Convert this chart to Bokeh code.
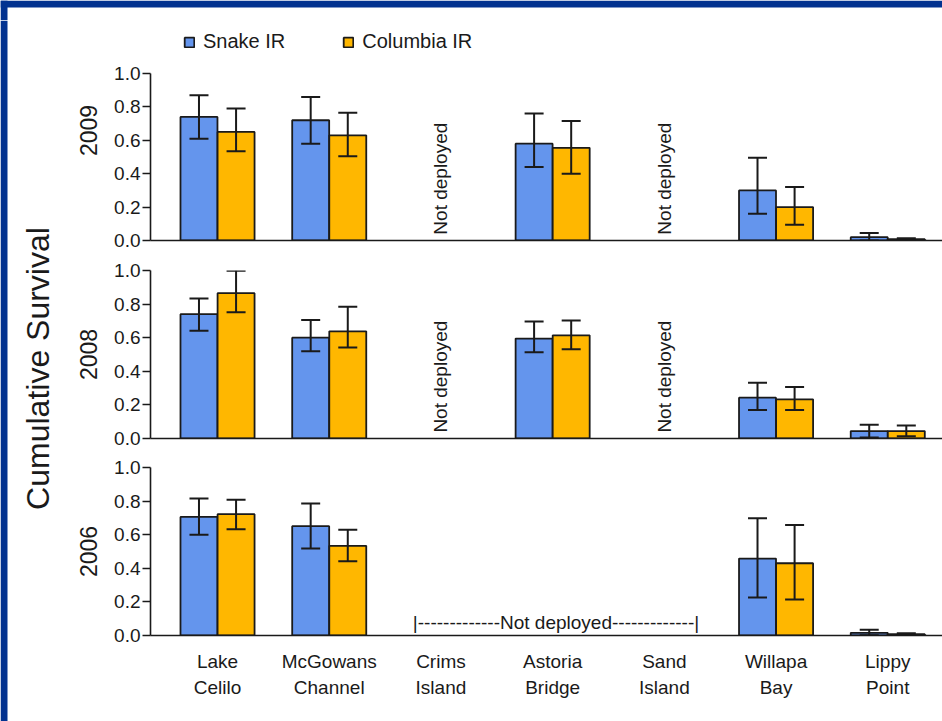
import math
from bokeh.plotting import figure
from bokeh.layouts import column, row
from bokeh.models import (Range1d, FixedTicker, NumeralTickFormatter, Whisker, BoxAnnotation,
                          ColumnDataSource, Legend, LegendItem, Label, TeeHead)
from bokeh.embed import file_html
from bokeh.resources import INLINE
from bokeh.core.properties import value

# ---------------- data ----------------
sites = ["Lake\nCelilo", "McGowans\nChannel", "Crims\nIsland", "Astoria\nBridge",
         "Sand\nIsland", "Willapa\nBay", "Lippy\nPoint"]
series_names = ["Snake IR", "Columbia IR"]
years = ["2009", "2008", "2006"]

snake_2009 = [0.74, 0.72, None, 0.58, None, 0.30, 0.02]
snake_2009_lo = [0.61, 0.58, None, 0.44, None, 0.16, 0.0]
snake_2009_hi = [0.87, 0.86, None, 0.76, None, 0.495, 0.045]
columbia_2009 = [0.65, 0.63, None, 0.555, None, 0.20, 0.008]
columbia_2009_lo = [0.535, 0.505, None, 0.40, None, 0.095, 0.002]
columbia_2009_hi = [0.79, 0.765, None, 0.715, None, 0.32, 0.014]

snake_2008 = [0.74, 0.60, None, 0.595, None, 0.243, 0.044]
snake_2008_lo = [0.642, 0.519, None, 0.513, None, 0.169, 0.006]
snake_2008_hi = [0.833, 0.706, None, 0.696, None, 0.332, 0.082]
columbia_2008 = [0.865, 0.638, None, 0.614, None, 0.233, 0.044]
columbia_2008_lo = [0.751, 0.541, None, 0.531, None, 0.169, 0.014]
columbia_2008_hi = [0.998, 0.784, None, 0.702, None, 0.307, 0.078]

snake_2006 = [0.706, 0.651, None, None, None, 0.458, 0.016]
snake_2006_lo = [0.599, 0.518, None, None, None, 0.226, 0.002]
snake_2006_hi = [0.815, 0.786, None, None, None, 0.698, 0.034]
columbia_2006 = [0.722, 0.534, None, None, None, 0.43, 0.008]
columbia_2006_lo = [0.633, 0.442, None, None, None, 0.214, 0.002]
columbia_2006_hi = [0.808, 0.629, None, None, None, 0.657, 0.014]

y_ticks = [0.0, 0.2, 0.4, 0.6, 0.8, 1.0]

# ---------------- style ----------------
FONT = "Liberation Sans"
BLUE = "#6495ED"
ORANGE = "#FFB700"
FRAME_BLUE = "#023290"
INK = "#1a1a1a"
BAR_W = 0.331
OFFS = 0.166
FS = "19px"


def series_source(vals, lo, hi, offset):
    xs, ys, los, his = [], [], [], []
    for i, v in enumerate(vals):
        if v is None:
            continue
        xs.append(i + offset)
        ys.append(v)
        los.append(lo[i])
        his.append(hi[i])
    return ColumnDataSource(dict(x=xs, top=ys, lo=los, hi=his))


def make_panel(height, b_top, b_bottom, y_end, year, s, s_lo, s_hi, c, c_lo, c_hi, bottom_labels):
    p = figure(width=882, height=height, x_range=Range1d(-0.6, 6.49), y_range=Range1d(0, y_end),
               toolbar_location=None, output_backend="svg",
               min_border_left=90, min_border_right=0,
               min_border_top=b_top, min_border_bottom=b_bottom)
    p.outline_line_color = None
    p.grid.visible = False
    p.background_fill_color = "white"
    p.border_fill_color = "white"

    renderers = []
    for vals, lo, hi, off, col in ((s, s_lo, s_hi, -OFFS, BLUE), (c, c_lo, c_hi, OFFS, ORANGE)):
        src = series_source(vals, lo, hi, off)
        r = p.vbar(x="x", top="top", bottom=0, width=BAR_W, source=src,
                   fill_color=col, line_color=INK, line_width=1.8)
        renderers.append(r)
        w = Whisker(base="x", upper="hi", lower="lo", source=src, level="overlay",
                    line_color=INK, line_width=2,
                    upper_head=TeeHead(size=19, line_color=INK, line_width=2),
                    lower_head=TeeHead(size=19, line_color=INK, line_width=2))
        p.add_layout(w)

    ya = p.yaxis[0]
    ya.bounds = (0, 1)
    ya.ticker = FixedTicker(ticks=y_ticks)
    ya.formatter = NumeralTickFormatter(format="0.0")
    ya.minor_tick_line_color = None
    ya.major_tick_in = 0
    ya.major_tick_out = 8
    ya.major_tick_line_color = INK
    ya.major_tick_line_width = 1.6
    ya.axis_line_color = INK
    ya.axis_line_width = 1.6
    ya.major_label_standoff = 2
    ya.major_label_text_font = FONT
    ya.major_label_text_font_size = FS
    ya.major_label_text_color = INK
    ya.axis_label = year
    ya.axis_label_text_font = FONT
    ya.axis_label_text_font_size = "23px"
    ya.axis_label_text_font_style = "normal"
    ya.axis_label_text_color = INK
    ya.axis_label_standoff = 14

    xa = p.xaxis[0]
    xa.axis_line_color = INK
    xa.axis_line_width = 1.6
    xa.minor_tick_line_color = None
    xa.major_tick_line_color = None
    xa.major_tick_in = 0
    xa.major_tick_out = 0
    if bottom_labels:
        xa.ticker = FixedTicker(ticks=list(range(len(sites))))
        xa.major_label_overrides = {i: sites[i] for i in range(len(sites))}
        xa.major_label_text_font = FONT
        xa.major_label_text_font_size = FS
        xa.major_label_text_color = INK
        xa.major_label_text_line_height = 1.25
        xa.major_label_standoff = 15
    else:
        xa.ticker = FixedTicker(ticks=[])
    return p, renderers


# panel A frame extends upward to hold the legend (axis bounded to 0..1)
pA, rA = make_panel(230, 0, 10, 220 / 167, years[0], snake_2009, snake_2009_lo, snake_2009_hi,
                    columbia_2009, columbia_2009_lo, columbia_2009_hi, False)
pB, _ = make_panel(200, 20, 12, 1, years[1], snake_2008, snake_2008_lo, snake_2008_hi,
                   columbia_2008, columbia_2008_lo, columbia_2008_hi, False)
pC, _ = make_panel(271, 17, 86, 1, years[2], snake_2006, snake_2006_lo, snake_2006_hi,
                   columbia_2006, columbia_2006_lo, columbia_2006_hi, True)

# "Not deployed" notes
for p in (pA, pB):
    p.text(x=[2, 4], y=[0.035, 0.035], text=["Not deployed", "Not deployed"],
           angle=math.pi / 2, text_align="left", text_baseline="middle",
           text_font=value(FONT), text_font_size=FS, text_color=INK)
pC.text(x=[3.03], y=[0.08], text=["|-------------Not deployed-------------|"],
        text_align="center", text_baseline="middle",
        text_font=value(FONT), text_font_size=FS, text_color=INK)

# legend
legend = Legend(items=[LegendItem(label=series_names[0], renderers=[rA[0]]),
                       LegendItem(label=series_names[1], renderers=[rA[1]])],
                orientation="horizontal", location=(33, 187),
                glyph_width=12, glyph_height=12, label_standoff=8, spacing=57,
                padding=0, margin=0, border_line_color=None, background_fill_alpha=0,
                label_text_font=FONT, label_text_font_size="20px", label_text_color=INK)
pA.add_layout(legend)


def blank(w, h):
    f = figure(width=w, height=h, x_range=Range1d(0, w), y_range=Range1d(0, h),
               toolbar_location=None, output_backend="svg", min_border=0,
               x_axis_location=None, y_axis_location=None)
    f.outline_line_color = None
    f.grid.visible = False
    f.background_fill_color = "white"
    f.border_fill_color = "white"
    return f


def band(f, left, right, bottom, top):
    f.add_layout(BoxAnnotation(left=left, right=right, bottom=bottom, top=top,
                               fill_color=FRAME_BLUE, fill_alpha=1.0, line_alpha=0))


# header: slide frame band (top and left)
header = blank(942, 20)
band(header, 0, 942, 13, 20)
band(header, 0, 7, 0, 20)

# left title strip with slide frame band
pT = blank(60, 701)
band(pT, 0, 7, 0, 701)
pT.add_layout(Label(x=37, y=353, text="Cumulative Survival", angle=math.pi / 2,
                    text_align="center", text_baseline="middle",
                    text_font=FONT, text_font_size="32px", text_color=INK))

layout = column(header, row(pT, column(pA, pB, pC)))

open("out.html", "w").write(file_html(layout, INLINE))
